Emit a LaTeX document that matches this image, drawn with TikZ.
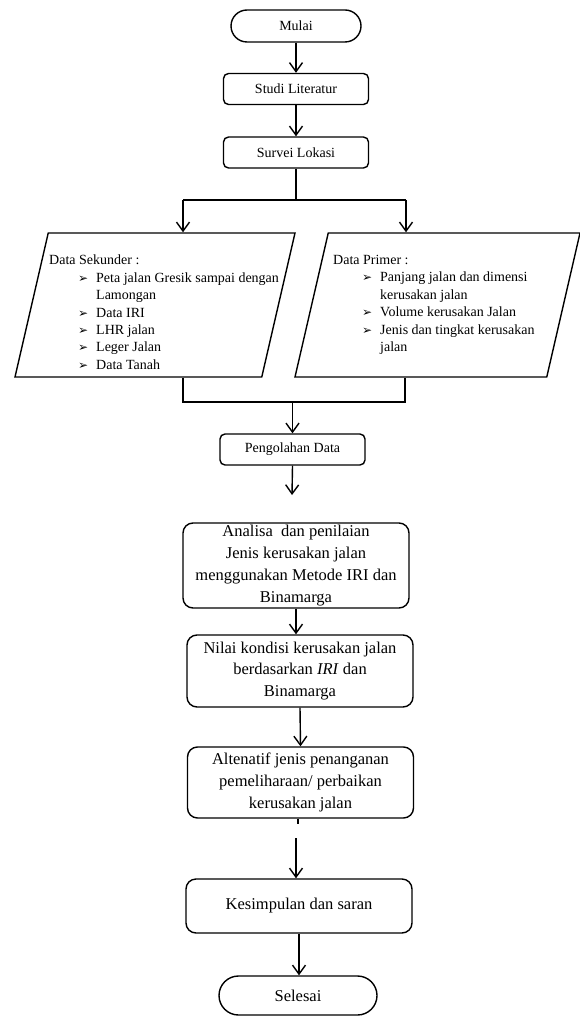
\documentclass[tikz,border=0pt]{standalone}
\usepackage{fontspec}
\setmainfont{Liberation Serif}
\newfontfamily\dingfont{DejaVu Sans}
\usetikzlibrary{shapes.geometric,arrows.meta,positioning}
\newcommand{\bul}{{\dingfont\fontsize{12}{12}\selectfont ➢}}
\newcommand{\itm}[1]{\hspace*{29pt}\makebox[18pt][l]{\bul}#1}
\newcommand{\cnt}[1]{\hspace*{47pt}#1}
\tikzset
{
    startstop/.style  = {rectangle, draw=black, line width=1.4pt, align=center, inner sep=0pt, font=\fontsize{14}{17.4}\selectfont},
    process/.style    = {rectangle, rounded corners=5pt, draw=black, line width=1.4pt, align=center, minimum width=145pt, minimum height=31pt, inner sep=0pt, font=\fontsize{14}{17.4}\selectfont},
    bigprocess/.style = {rectangle, rounded corners=10pt, draw=black, line width=1.4pt, align=center, minimum width=226pt, inner sep=0pt, font=\fontsize{16.5}{21.8}\selectfont},
    datainput/.style  = {shape=trapezium, trapezium left angle=77, trapezium right angle=103, trapezium stretches body, draw=black, line width=1.4pt, inner xsep=5pt, inner ysep=72pt},
    datatext/.style   = {anchor=north west, inner sep=0pt, align=left, font=\fontsize{14}{17.4}\selectfont},
    arr/.style        = {-{Straight Barb[length=9pt,width=13pt]}, line width=1.4pt},
    wire/.style       = {line width=1.4pt}
}
\begin{document}
\begin{tikzpicture}[x=1pt,y=-1pt]
\useasboundingbox (0,0) rectangle (580,1016);
\node [startstop, minimum width=130pt, minimum height=32pt, rounded corners=16pt] at (296,26) (mulai) {Mulai};
\node [process] at (296,89) (studi) {Studi Literatur};
\node [process] at (296,152.5) (survei) {Survei Lokasi};
\node [datainput, minimum width=280pt] at (155,305) (sek) {};
\node [datainput, minimum width=285pt] at (437.5,305) (prim) {};
\node [datatext] at (49,255) (sektxt) {Data Sekunder :\\
\itm{Peta jalan Gresik sampai dengan}\\
\cnt{Lamongan}\\
\itm{Data IRI}\\
\itm{LHR jalan}\\
\itm{Leger Jalan}\\
\itm{Data Tanah}};
\node [datatext] at (333,255) (primtxt) {Data Primer :\\
\itm{Panjang jalan dan dimensi}\\
\cnt{kerusakan jalan}\\
\itm{Volume kerusakan Jalan}\\
\itm{Jenis dan tingkat kerusakan}\\
\cnt{jalan}};
\node [process] at (292.5,449.5) (olah) {Pengolahan Data};
\node [bigprocess, minimum height=85pt] at (296,565.5) (analisa) {Analisa\ \ dan penilaian\\ Jenis kerusakan jalan\\ menggunakan Metode IRI dan\\ Binamarga};
\node [bigprocess, minimum height=72pt] at (300,671) (nilai) {Nilai kondisi kerusakan jalan\\ berdasarkan \textit{IRI} dan\\ Binamarga};
\node [bigprocess, minimum height=71pt] at (300.5,782.5) (alt) {Altenatif jenis penanganan\\ pemeliharaan/ perbaikan\\ kerusakan jalan};
\node [bigprocess, minimum height=54pt] at (299,906) (kes) {Kesimpulan dan saran};
\node [startstop, minimum width=158pt, minimum height=39pt, rounded corners=19.5pt, font=\fontsize{16.5}{21.8}\selectfont] at (298,995.5) (selesai) {Selesai};
\coordinate (bl) at (183,200);
\coordinate (br) at (406,200);
\coordinate (ml) at (183,402);
\coordinate (mr) at (405,402);
\coordinate (stop1) at (292,495);
\coordinate (tick) at (298,824);
\coordinate (restart) at (296,838);
\draw [arr] (mulai) -- (studi);
\draw [arr] (studi) -- (survei);
\draw [wire] (survei.south) -- (survei.south |- bl);
\draw [wire] (bl) -- (br);
\draw [arr] (bl) -- (bl |- sek.north);
\draw [arr] (br) -- (br |- prim.north);
\draw [wire] (ml |- sek.south) -- (ml) -- (mr) -- (mr |- prim.south);
\draw [arr] (olah.north |- ml) -- (olah.north);
\draw [arr] (olah.south) -- (stop1);
\draw [arr] (analisa.south) -- (analisa.south |- nilai.north);
\draw [arr] (nilai.south) -- (alt.north);
\draw [wire] (alt.south -| tick) -- (tick);
\draw [arr] (restart) -- (restart |- kes.north);
\draw [arr] (kes.south) -- (kes.south |- selesai.north);
\end{tikzpicture}
\end{document}
